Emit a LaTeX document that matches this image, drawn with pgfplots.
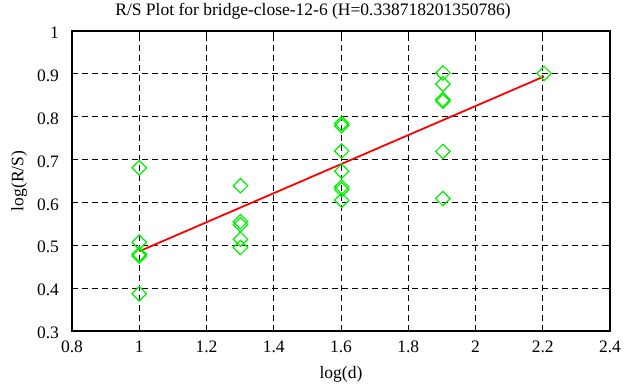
\documentclass[border=0pt]{standalone}
\usepackage{pgfplots}
\pgfplotsset{compat=1.18}
\usepackage{fontspec}
\setmainfont{Liberation Serif}
\usetikzlibrary{calc}
\begin{document}
\fontsize{17.5bp}{20bp}\selectfont
\begin{tikzpicture}
\begin{axis}[
  scale only axis,
  width=538bp, height=300bp,
  xmin=0.8, xmax=2.4, ymin=0.3, ymax=1,
  xtick={0.8,1,...,2.41}, ytick={0.3,0.4,...,1.01},
  xticklabels={0.8,1,1.2,1.4,1.6,1.8,2,2.2,2.4},
  yticklabels={0.3,0.4,0.5,0.6,0.7,0.8,0.9,1},
  tick align=inside, tick pos=both,
  major tick length=6bp,
  axis line style={line width=1.6bp},
  every tick/.style={black, line width=1bp},
  grid=major,
  major grid style={black, line width=0.9bp, dash pattern=on 6bp off 4bp},
  title={R/S Plot for bridge-close-12-6 (H=0.338718201350786)},
  xlabel={log(d)}, ylabel={log(R/S)},
  xticklabel style={yshift=-4bp},
  yticklabel style={xshift=-7bp, yshift=-2bp},
  xlabel style={yshift=-2bp},
  ylabel style={yshift=-2bp},
  /pgf/number format/assume math mode=true,
  ticklabel style={font=\fontsize{17.5bp}{20bp}\selectfont},
  label style={font=\fontsize{17.5bp}{20bp}\selectfont},
  title style={font=\fontsize{17.5bp}{20bp}\selectfont, xshift=-28bp},
]
\addplot[only marks, mark=square, mark size=5.1bp, color={rgb,255:red,0;green,240;blue,0},
  mark options={rotate=45, line width=1.2bp}] coordinates {
  (1,0.681) (1,0.507) (1,0.475) (1,0.479) (1,0.387)
  (1.301,0.639) (1.301,0.548) (1.301,0.555) (1.301,0.514) (1.301,0.495)
  (1.602,0.779) (1.602,0.784) (1.602,0.72) (1.602,0.673) (1.602,0.630) (1.602,0.636) (1.602,0.605)
  (1.903,0.902) (1.903,0.876) (1.903,0.836) (1.903,0.840) (1.903,0.719) (1.903,0.609)
  (2.204,0.901)
};
\addplot[red, line width=1.8bp, mark=none] coordinates {(1,0.486) (2.204,0.894)};
\end{axis}
\pgfresetboundingbox
\path ($(current axis.south west)+(-72bp,-56bp)$) rectangle ($(current axis.north east)+(16bp,31bp)$);
\end{tikzpicture}
\end{document}
